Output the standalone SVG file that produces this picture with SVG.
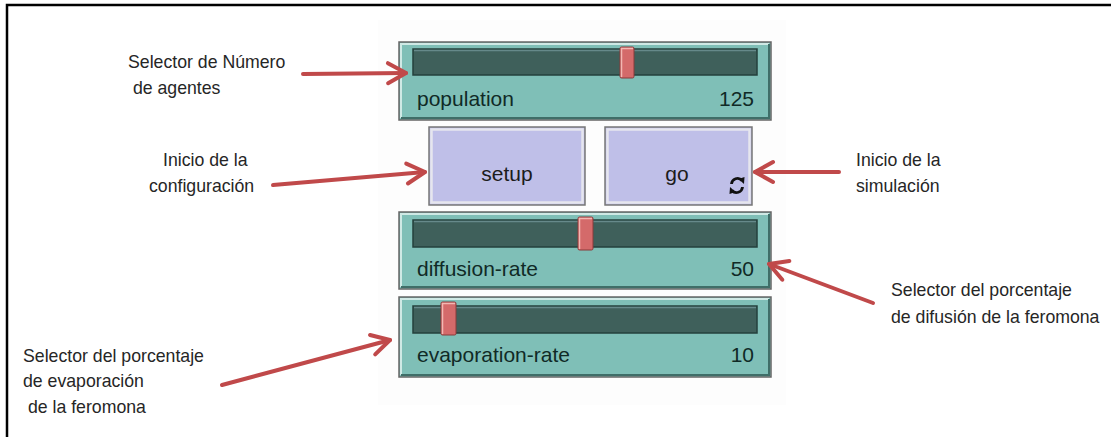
<svg xmlns="http://www.w3.org/2000/svg" width="1111" height="437" viewBox="0 0 1111 437">
<style>
.lbl{font-family:"Liberation Sans",Arial,sans-serif;font-size:17.7px;fill:#262626}
.wt{font-family:"Liberation Sans",Arial,sans-serif;font-size:21px;fill:#102a26}
.bt{font-family:"Liberation Sans",Arial,sans-serif;font-size:21px;fill:#1c1c1c;text-anchor:middle}
.sl{fill:#7fbfb7;stroke:#666;stroke-width:1.5}
.hi{fill:none;stroke:#cfe9e5;stroke-width:2}
.lo{fill:none;stroke:#3f6e68;stroke-width:2}
.tr{fill:#3f605b;stroke:#24403c;stroke-width:1.5}
.trh{fill:none;stroke:#66898a;stroke-width:1.5}
.th{fill:#d46a6a;stroke:#8a3b3b;stroke-width:1}
.thh{fill:none;stroke:#f3b7b2;stroke-width:1.5}
.bo{fill:#bfbfe8;stroke:#777;stroke-width:1.5}
.bi{fill:none;stroke:#e6e6ee;stroke-width:2.5}
.ar{fill:none;stroke:#c0494a;stroke-width:4;stroke-linecap:round;marker-end:url(#ah)}
</style>
<defs>
<marker id="ah" viewBox="-22 -14 26 28" refX="0" refY="0" markerWidth="26" markerHeight="28" markerUnits="userSpaceOnUse" orient="auto" overflow="visible">
<path d="M-18,-10 L0,0 L-18,10" fill="none" stroke="#c0494a" stroke-width="4" stroke-linecap="round" stroke-linejoin="round"/>
</marker>
</defs>
<rect x="0" y="0" width="1111" height="437" fill="#fff"/>
<rect x="378" y="20" width="408" height="385" fill="#fdfdfd"/>
<path d="M7,437 V5 H1111" fill="none" stroke="#000" stroke-width="2.5"/>

<g id="slider-population">
<rect class="sl" x="399" y="42" width="372" height="78"/>
<path class="hi" d="M401,118 V44 H769"/>
<path class="lo" d="M401,118 H769 V44"/>
<rect class="tr" x="413" y="49" width="344" height="26"/>
<path class="trh" d="M414,50.5 H756"/>
<rect class="th" x="620" y="47" width="14" height="31" rx="1.5"/>
<path class="thh" d="M621.5,77 V48.5 H633"/>
<text class="wt" x="417" y="106">population</text>
<text class="wt" x="754" y="106" text-anchor="end">125</text>
</g>

<g id="button-setup">
<rect class="bo" x="429" y="127" width="156" height="78"/>
<rect class="bi" x="431.5" y="129.5" width="151" height="73"/>
<text class="bt" x="507" y="181">setup</text>
</g>

<g id="button-go">
<rect class="bo" x="605" y="127" width="147" height="78"/>
<rect class="bi" x="607.5" y="129.5" width="142" height="73"/>
<text class="bt" x="677" y="181">go</text>
<g fill="none" stroke="#111" stroke-width="2.8">
<path d="M731.5,184 A6,6 0 0 1 742,180.5"/>
<path d="M742.5,187 A6,6 0 0 1 732,190.5"/>
</g>
<path d="M738.5,179 L744.5,177 L744,184 Z" fill="#111"/>
<path d="M735.5,192 L729.5,194 L730,187 Z" fill="#111"/>
</g>

<g id="slider-diffusion">
<rect class="sl" x="399" y="212" width="372" height="77"/>
<path class="hi" d="M401,287 V214 H769"/>
<path class="lo" d="M401,287 H769 V214"/>
<rect class="tr" x="413" y="220" width="344" height="27"/>
<path class="trh" d="M414,221.5 H756"/>
<rect class="th" x="578" y="217" width="15" height="33" rx="1.5"/>
<path class="thh" d="M579.5,249 V218.5 H592"/>
<text class="wt" x="417" y="276">diffusion-rate</text>
<text class="wt" x="754" y="276" text-anchor="end">50</text>
</g>

<g id="slider-evaporation">
<rect class="sl" x="399" y="297" width="372" height="80"/>
<path class="hi" d="M401,375 V299 H769"/>
<path class="lo" d="M401,375 H769 V299"/>
<rect class="tr" x="413" y="306" width="344" height="27"/>
<path class="trh" d="M414,307.5 H756"/>
<rect class="th" x="441" y="302" width="15" height="33" rx="1.5"/>
<path class="thh" d="M442.5,334 V303.5 H455"/>
<text class="wt" x="417" y="362">evaporation-rate</text>
<text class="wt" x="754" y="362" text-anchor="end">10</text>
</g>

<g id="label-population">
<text class="lbl" x="128" y="68">Selector de Número</text>
<text class="lbl" x="128" y="94" xml:space="preserve"> de agentes</text>
</g>
<g id="label-setup">
<text class="lbl" x="163" y="166">Inicio de la</text>
<text class="lbl" x="149" y="192">configuración</text>
</g>
<g id="label-go">
<text class="lbl" x="856" y="166">Inicio de la</text>
<text class="lbl" x="856" y="192">simulación</text>
</g>
<g id="label-diffusion">
<text class="lbl" x="891" y="296">Selector del porcentaje</text>
<text class="lbl" x="891" y="323">de difusión de la feromona</text>
</g>
<g id="label-evaporation">
<text class="lbl" x="23" y="362">Selector del porcentaje</text>
<text class="lbl" x="23" y="387">de evaporación</text>
<text class="lbl" x="23" y="413" xml:space="preserve"> de la feromona</text>
</g>

<g id="connectors">
<path class="ar" d="M303,74 L406,73"/>
<path class="ar" d="M273,185 L425,172"/>
<path class="ar" d="M839,172 L755,172"/>
<path class="ar" d="M873,303 L769,264"/>
<path class="ar" d="M222,385 L390,340"/>
</g>
</svg>
